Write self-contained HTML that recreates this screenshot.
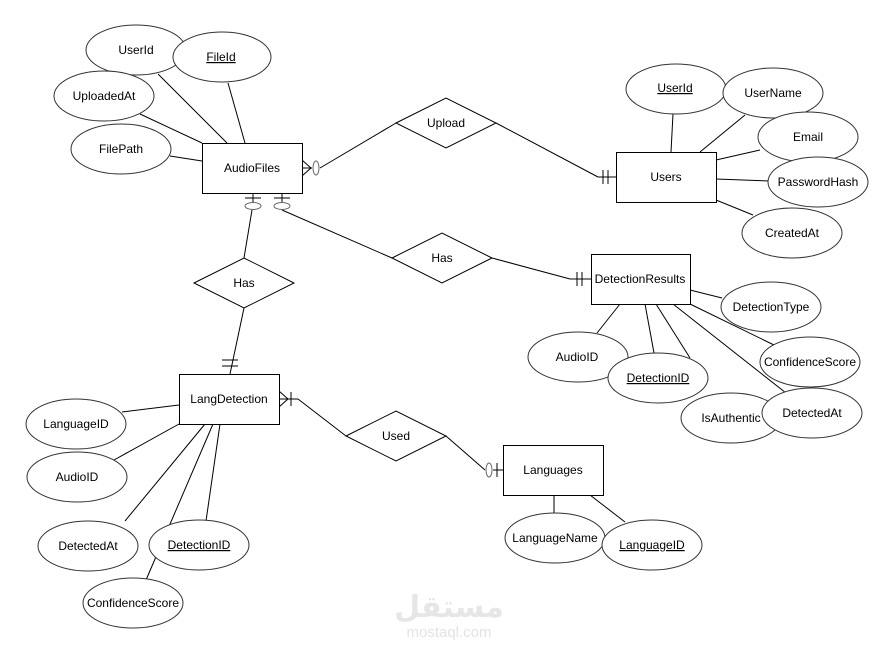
<!DOCTYPE html>
<html><head><meta charset="utf-8"><style>
html,body{margin:0;padding:0;background:#fff;}
svg text{font-family:"Liberation Sans",Arial,sans-serif;font-size:12px;fill:#000;}
</style></head><body>
<svg width="896" height="654" viewBox="0 0 896 654" xmlns="http://www.w3.org/2000/svg">
<g stroke="#000" stroke-width="1" fill="none">
<!-- AudioFiles attribute lines -->
<line x1="158" y1="74" x2="227" y2="143"/>
<line x1="228" y1="83" x2="245" y2="143"/>
<line x1="140" y1="114" x2="202" y2="143"/>
<line x1="170" y1="156" x2="202" y2="161"/>
<!-- Upload relation -->
<line x1="302" y1="168" x2="312" y2="168"/>
<polyline points="302,160 311,168 302,176"/>
<line x1="320" y1="168" x2="396" y2="123"/>
<line x1="496" y1="123" x2="598" y2="177"/>
<line x1="598" y1="177" x2="616" y2="177"/>
<line x1="603" y1="170" x2="603" y2="184"/>
<line x1="608" y1="170" x2="608" y2="184"/>
<!-- Users attrs -->
<line x1="673" y1="114" x2="671" y2="152"/>
<line x1="745" y1="115" x2="700" y2="152"/>
<line x1="760" y1="150" x2="716" y2="160"/>
<line x1="770" y1="181" x2="716" y2="179"/>
<line x1="753" y1="215" x2="716" y2="200"/>
<!-- AudioFiles bottom connectors -->
<line x1="253" y1="193" x2="253" y2="202"/>
<line x1="245" y1="198" x2="261" y2="198"/>
<line x1="282" y1="193" x2="282" y2="202"/>
<line x1="274" y1="198" x2="290" y2="198"/>
<line x1="252" y1="210" x2="244" y2="258"/>
<line x1="282" y1="210" x2="392" y2="258"/>
<line x1="492" y1="258" x2="570" y2="279"/>
<line x1="570" y1="279" x2="591" y2="279"/>
<line x1="577" y1="272" x2="577" y2="286"/>
<line x1="582" y1="272" x2="582" y2="286"/>
<!-- Has2 to LangDetection -->
<line x1="244" y1="308" x2="230" y2="374"/>
<line x1="222" y1="360" x2="238" y2="360"/>
<line x1="222" y1="366" x2="238" y2="366"/>
<!-- DR attrs -->
<line x1="690" y1="290" x2="722" y2="298"/>
<line x1="690" y1="304" x2="774" y2="345"/>
<line x1="673" y1="304" x2="786" y2="393"/>
<line x1="656" y1="304" x2="690" y2="358"/>
<line x1="645" y1="304" x2="654" y2="353"/>
<line x1="620" y1="304" x2="597" y2="333"/>
<!-- LangDetection attrs -->
<line x1="122" y1="412" x2="179" y2="405"/>
<line x1="114" y1="460" x2="179" y2="424"/>
<line x1="125" y1="521" x2="205" y2="424"/>
<line x1="206" y1="521" x2="220" y2="424"/>
<line x1="146" y1="580" x2="213" y2="424"/>
<!-- Used -->
<polyline points="279,391 288,399 279,407"/>
<line x1="279" y1="399" x2="298" y2="399"/>
<line x1="291" y1="392" x2="291" y2="406"/>
<line x1="298" y1="399" x2="346" y2="436"/>
<line x1="446" y1="436" x2="485" y2="470"/>
<line x1="493" y1="470" x2="503" y2="470"/>
<line x1="497" y1="463" x2="497" y2="477"/>
<!-- Languages attrs -->
<line x1="554" y1="495" x2="554" y2="515"/>
<line x1="590" y1="495" x2="625" y2="522"/>
</g>
<g stroke="#000" fill="#fff">
<rect x="202.5" y="143.5" width="100" height="50"/>
<rect x="616.5" y="152.5" width="100" height="50"/>
<rect x="591.5" y="254.5" width="99" height="50"/>
<rect x="179.5" y="374.5" width="100" height="50"/>
<rect x="503.5" y="445.5" width="100" height="50"/>
<polygon points="396,123 446,98 496,123 446,148"/>
<polygon points="392,258 442,233 492,258 442,283"/>
<polygon points="194,283 244,258 294,283 244,308"/>
<polygon points="346,436 396,411 446,436 396,461"/>
</g>
<g stroke="#666" fill="#fff">
<ellipse cx="316" cy="168" rx="3" ry="7"/>
<ellipse cx="253" cy="206" rx="8" ry="3.5"/>
<ellipse cx="282" cy="206" rx="8" ry="3.5"/>
<ellipse cx="489" cy="470" rx="3" ry="7"/>
</g>
<g stroke="#333" fill="#fff">
<ellipse cx="136" cy="50" rx="50" ry="25"/>
<ellipse cx="222" cy="57" rx="49" ry="25"/>
<ellipse cx="104" cy="96" rx="50" ry="25"/>
<ellipse cx="121" cy="149" rx="50" ry="25"/>
<ellipse cx="676" cy="89" rx="50" ry="25"/>
<ellipse cx="773" cy="93" rx="50" ry="25"/>
<ellipse cx="808" cy="137" rx="50" ry="25"/>
<ellipse cx="818" cy="182" rx="50" ry="25"/>
<ellipse cx="792" cy="233" rx="50" ry="25"/>
<ellipse cx="771" cy="307" rx="50" ry="25"/>
<ellipse cx="810" cy="362" rx="50" ry="25"/>
<ellipse cx="578" cy="357" rx="50" ry="25"/>
<ellipse cx="658" cy="378" rx="50" ry="25"/>
<ellipse cx="731" cy="418" rx="50" ry="25"/>
<ellipse cx="812" cy="413" rx="50" ry="25"/>
<ellipse cx="76" cy="424" rx="50" ry="25"/>
<ellipse cx="77" cy="477" rx="50" ry="25"/>
<ellipse cx="88" cy="546" rx="50" ry="25"/>
<ellipse cx="199" cy="545" rx="50" ry="25"/>
<ellipse cx="133" cy="603" rx="50" ry="25"/>
<ellipse cx="555" cy="538" rx="50" ry="25"/>
<ellipse cx="652" cy="545" rx="50" ry="25"/>
</g>
<g text-anchor="middle">
<text x="252" y="172">AudioFiles</text>
<text x="666" y="181">Users</text>
<text x="640" y="283">DetectionResults</text>
<text x="229" y="403">LangDetection</text>
<text x="553" y="474">Languages</text>
<text x="446" y="127">Upload</text>
<text x="442" y="262">Has</text>
<text x="244" y="287">Has</text>
<text x="396" y="440">Used</text>
<text x="136" y="54">UserId</text>
<text x="221" y="61" text-decoration="underline">FileId</text>
<text x="104" y="100">UploadedAt</text>
<text x="121" y="153">FilePath</text>
<text x="675" y="92" text-decoration="underline">UserId</text>
<text x="773" y="97">UserName</text>
<text x="808" y="141">Email</text>
<text x="818" y="186">PasswordHash</text>
<text x="792" y="237">CreatedAt</text>
<text x="771" y="311">DetectionType</text>
<text x="810" y="366">ConfidenceScore</text>
<text x="577" y="361">AudioID</text>
<text x="658" y="382" text-decoration="underline">DetectionID</text>
<text x="731" y="422">IsAuthentic</text>
<text x="812" y="417">DetectedAt</text>
<text x="76" y="428">LanguageID</text>
<text x="77" y="481">AudioID</text>
<text x="88" y="550">DetectedAt</text>
<text x="199" y="549" text-decoration="underline">DetectionID</text>
<text x="133" y="607">ConfidenceScore</text>
<text x="555" y="542">LanguageName</text>
<text x="652" y="549" text-decoration="underline">LanguageID</text>
</g>
<text x="449" y="617" text-anchor="middle" style="font-size:30px;fill:#e6e6e6;font-weight:bold;font-family:'Liberation Sans','DejaVu Sans',sans-serif">مستقل</text>
<text x="449" y="637" text-anchor="middle" style="font-size:15px;fill:#e3e3e3">mostaql.com</text>
</svg>
</body></html>
